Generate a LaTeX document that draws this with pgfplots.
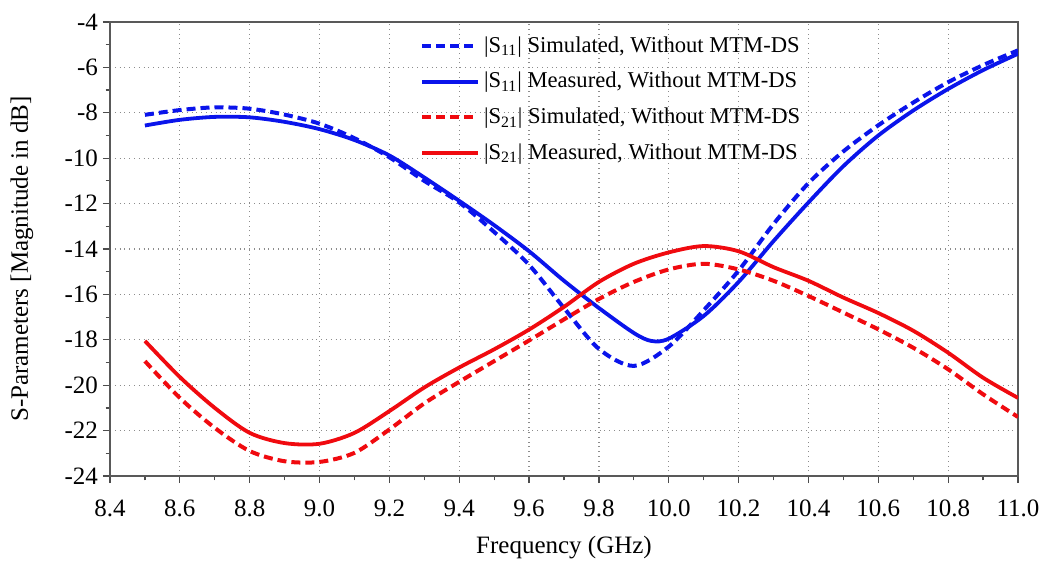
\documentclass[border=0pt]{standalone}
\usepackage{fontspec}
\setmainfont{Liberation Serif}
\usepackage{pgfplots}
\pgfplotsset{compat=1.18}
\usepackage{pgfplotstable}

\definecolor{sblue}{RGB}{10,20,235}
\definecolor{sred}{RGB}{240,10,15}

% S-parameters in dB
\pgfplotstableread{
f      v
8.5   -8.09
8.6   -7.88
8.7   -7.76
8.8   -7.82
8.9   -8.08
9.0   -8.48
9.1   -9.12
9.2   -9.96
9.3   -11.0
9.4   -11.95
9.5   -13.25
9.6   -14.7
9.7   -16.6
9.8   -18.4
9.9   -19.15
10.0  -18.3
10.1  -16.7
10.2  -14.95
10.3  -12.9
10.4  -11.1
10.5  -9.7
10.6  -8.55
10.7  -7.55
10.8  -6.65
10.9  -5.9
11.0  -5.25
}\siisim

\pgfplotstableread{
f      v
8.5   -8.56
8.6   -8.31
8.7   -8.18
8.8   -8.2
8.9   -8.4
9.0   -8.72
9.1   -9.2
9.2   -9.88
9.3   -10.85
9.4   -11.88
9.5   -12.95
9.6   -14.1
9.7   -15.4
9.8   -16.6
9.9   -17.7
9.95  -18.05
10.0  -17.95
10.1  -16.95
10.2  -15.45
10.3  -13.65
10.4  -11.95
10.5  -10.35
10.6  -9.0
10.7  -7.9
10.8  -6.95
10.9  -6.12
11.0  -5.4
}\siimeas

\pgfplotstableread{
f      v
8.5   -18.94
8.6   -20.56
8.7   -21.88
8.8   -22.9
8.9   -23.35
9.0   -23.38
9.1   -22.98
9.2   -21.95
9.3   -20.8
9.4   -19.85
9.5   -18.94
9.6   -18.03
9.7   -17.1
9.8   -16.2
9.9   -15.45
10.0  -14.9
10.1  -14.65
10.2  -14.9
10.3  -15.4
10.4  -16.07
10.5  -16.8
10.6  -17.54
10.7  -18.35
10.8  -19.3
10.9  -20.4
11.0  -21.4
}\sxisim

\pgfplotstableread{
f      v
8.5   -18.05
8.6   -19.64
8.7   -21.0
8.8   -22.1
8.9   -22.55
9.0   -22.58
9.1   -22.1
9.2   -21.14
9.3   -20.1
9.4   -19.22
9.5   -18.42
9.6   -17.55
9.7   -16.55
9.8   -15.45
9.9   -14.65
10.0  -14.15
10.1  -13.87
10.2  -14.1
10.3  -14.8
10.4  -15.4
10.5  -16.14
10.6  -16.82
10.7  -17.6
10.8  -18.57
10.9  -19.67
11.0  -20.56
}\sximeas

\begin{document}
\begin{tikzpicture}
\begin{axis}[
  name=ax,
  scale only axis,
  width=454pt, height=227pt,
  xmin=8.4, xmax=11.0,
  ymin=-24, ymax=-4,
  xtick={8.4,8.6,...,11.05},
  ytick={-24,-22,...,-4},
  minor x tick num=1,
  minor y tick num=1,
  xtick pos=bottom, ytick pos=left,
  tick align=outside,
  major tick length=3.5pt, minor tick length=2.2pt,
  every tick/.style={black!70, line width=0.6pt},
  axis line style={black!65, line width=0.8pt},
  /pgf/number format/assume math mode=true,
  xticklabel={\pgfmathprintnumber[fixed, fixed zerofill, precision=1]{\tick}},
  yticklabel={\pgfmathprintnumber[fixed]{\tick}},
  tick label style={font=\fontsize{12.5}{14}\selectfont},
  xticklabel shift=5pt,
  yticklabel shift=-1pt,
  grid=major,
  major grid style={black!45, dotted, line width=0.6pt},
  xlabel={Frequency (GHz)},
  ylabel={S-Parameters [Magnitude in dB]},
  label style={font=\fontsize{12.5}{14}\selectfont},
  xlabel style={at={(axis description cs:0.5,0)}, anchor=center, yshift=-36pt},
  ylabel style={at={(axis description cs:0,0.5)}, anchor=center, yshift=44pt, xshift=-5pt},
  legend style={at={(0.341,0.978)}, anchor=north west, draw=none, fill=none,
    font=\fontsize{11.3}{13}\selectfont, row sep=4.6pt, inner sep=0pt,
    /tikz/every even column/.append style={column sep=3pt}},
  legend cell align=left,
  legend image code/.code={\draw[#1] (0pt,0pt) -- (28pt,0pt);},
]
\addplot[sblue, line width=2pt, dash pattern=on 4.5pt off 2.5pt, smooth] table[x=f, y=v] {\siisim};
\addlegendentry{|S\textsubscript{11}| Simulated, Without MTM-DS}
\addplot[sblue, line width=1.9pt, smooth] table[x=f, y=v] {\siimeas};
\addlegendentry{|S\textsubscript{11}| Measured, Without MTM-DS}
\addplot[sred, line width=2pt, dash pattern=on 4.5pt off 2.5pt, smooth] table[x=f, y=v] {\sxisim};
\addlegendentry{|S\textsubscript{21}| Simulated, Without MTM-DS}
\addplot[sred, line width=1.9pt, smooth] table[x=f, y=v] {\sximeas};
\addlegendentry{|S\textsubscript{21}| Measured, Without MTM-DS}
\end{axis}
\pgfresetboundingbox
\path[use as bounding box] ([shift={(-55pt,-45.5pt)}]ax.south west) rectangle ([shift={(19.5pt,11pt)}]ax.north east);
\end{tikzpicture}
\end{document}
